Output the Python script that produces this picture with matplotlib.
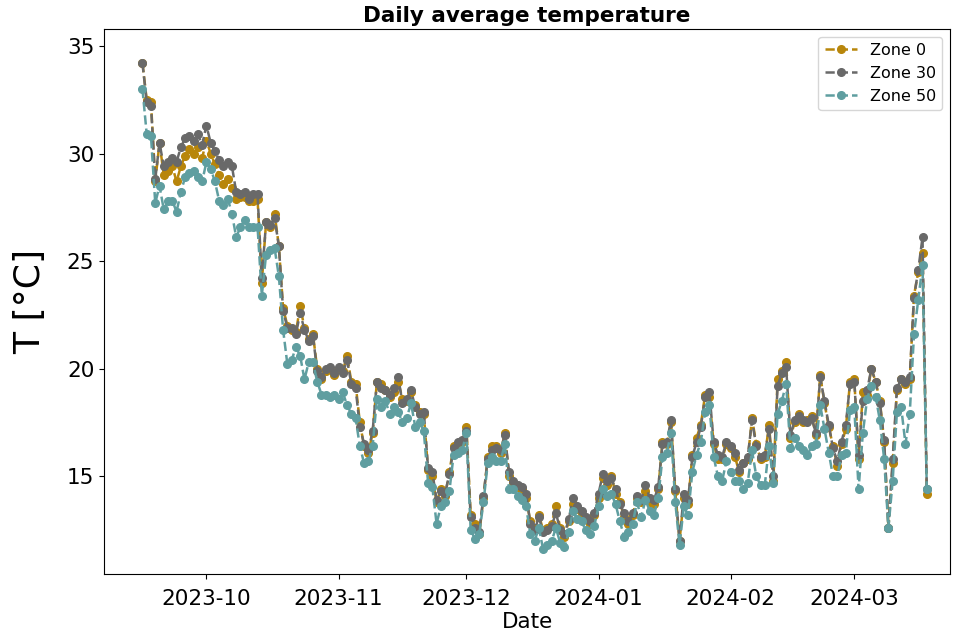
import matplotlib
matplotlib.use("Agg")
import matplotlib.pyplot as plt
import matplotlib.dates as mdates
import pandas as pd

# daily means, 2023-09-16 .. 2024-03-18
dates = pd.date_range("2023-09-16", "2024-03-18", freq="D")

zone_0 = [
    34.2, 32.5, 32.4, 28.7, 30.5, 29.0, 29.2, 29.4, 28.7, 29.4, 29.9, 30.2, 30.0, 30.3, 29.8,
    30.6, 30.0, 29.5, 29.0, 28.6, 28.8, 28.4, 27.9, 28.0, 28.0, 27.8, 27.8, 27.9, 24.0, 26.8,
    26.6, 27.2, 25.7, 22.8, 22.0, 21.8, 21.7, 22.9, 21.9, 21.4, 21.6, 20.0, 19.5, 19.9, 20.0,
    19.7, 20.0, 19.9, 20.6, 19.4, 19.3, 17.5, 16.4, 16.1, 17.0, 19.4, 19.3, 19.0, 18.7, 18.9,
    19.4, 18.6, 18.5, 18.9, 18.3, 18.0, 17.9, 15.3, 15.0, 13.8, 14.4, 14.1, 15.2, 16.4, 16.5,
    16.6, 17.3, 13.2, 12.8, 12.3, 14.0, 15.9, 16.4, 16.4, 16.1, 17.0, 15.0, 14.7, 14.5, 14.4,
    14.0, 12.9, 12.6, 13.2, 12.5, 12.6, 12.8, 13.6, 12.6, 12.2, 12.9, 13.7, 13.5, 13.2, 13.0,
    12.8, 13.2, 14.0, 14.9, 14.6, 15.0, 14.2, 13.8, 13.1, 12.8, 13.2, 14.0, 13.8, 14.3, 13.8,
    13.7, 14.4, 16.6, 16.5, 17.5, 14.3, 12.0, 14.0, 13.7, 16.0, 16.8, 17.4, 18.8, 18.7, 16.5,
    15.8, 15.8, 16.5, 16.3, 15.9, 15.2, 15.6, 15.8, 17.7, 16.5, 15.8, 15.9, 17.4, 14.8, 19.5,
    19.9, 20.3, 16.8, 17.5, 17.9, 17.5, 17.6, 17.8, 16.9, 19.7, 18.4, 17.3, 16.4, 15.5, 16.5,
    17.2, 19.4, 19.5, 15.8, 18.9, 18.8, 20.0, 19.4, 18.5, 16.6, 12.6, 15.6, 19.0, 19.5, 19.3,
    19.5, 23.4, 24.5, 25.4, 14.2,
]
zone_30 = [
    34.2, 32.4, 32.2, 28.8, 30.5, 29.4, 29.6, 29.8, 29.6, 30.3, 30.7, 30.8, 30.6, 30.9, 30.4,
    31.3, 30.5, 30.1, 29.7, 29.4, 29.6, 29.4, 28.2, 28.1, 28.2, 27.9, 28.1, 28.1, 24.2, 26.8,
    26.7, 27.0, 25.7, 22.7, 21.9, 21.9, 21.6, 22.6, 21.8, 21.3, 21.5, 19.9, 19.6, 20.0, 20.1,
    19.8, 20.1, 19.8, 20.4, 19.3, 19.1, 17.3, 16.5, 16.2, 17.1, 19.4, 19.1, 19.0, 18.8, 19.1,
    19.6, 18.4, 18.6, 19.0, 18.2, 17.9, 18.0, 15.4, 15.2, 13.9, 14.3, 14.2, 15.1, 16.3, 16.6,
    16.7, 17.1, 13.1, 12.6, 12.4, 14.1, 15.8, 16.2, 16.3, 16.2, 16.9, 15.2, 14.8, 14.6, 14.5,
    14.2, 12.8, 12.5, 13.1, 12.4, 12.5, 12.7, 13.3, 12.5, 12.3, 13.0, 14.0, 13.6, 13.4, 13.1,
    12.9, 13.3, 14.2, 15.1, 14.8, 14.9, 14.4, 13.7, 13.3, 12.9, 13.3, 14.1, 13.9, 14.6, 14.0,
    13.9, 14.5, 16.5, 16.6, 17.6, 14.4, 12.0, 14.2, 13.9, 15.9, 16.6, 17.3, 18.7, 18.9, 16.6,
    16.0, 15.9, 16.6, 16.4, 16.1, 15.3, 15.6, 15.9, 17.6, 16.4, 15.9, 16.0, 17.2, 15.0, 19.2,
    19.8, 20.1, 16.9, 17.6, 17.8, 17.6, 17.5, 17.7, 17.0, 19.6, 18.5, 17.4, 16.3, 15.7, 16.6,
    17.4, 19.3, 19.4, 16.0, 18.5, 19.0, 20.0, 19.4, 18.4, 16.7, 12.6, 15.8, 19.1, 19.5, 19.4,
    19.6, 23.3, 24.6, 26.1, 14.4,
]
zone_50 = [
    33.0, 30.9, 30.8, 27.7, 28.5, 27.4, 27.8, 27.8, 27.3, 28.2, 28.9, 29.1, 29.2, 28.9, 28.7,
    29.6, 29.3, 28.7, 27.8, 27.6, 27.9, 27.2, 26.1, 26.6, 26.9, 26.6, 26.6, 26.6, 23.4, 25.3,
    25.5, 25.6, 24.3, 21.8, 20.2, 20.4, 21.0, 20.6, 19.5, 20.3, 20.3, 19.4, 18.8, 18.8, 18.7,
    18.8, 18.6, 18.9, 18.3, 17.9, 17.7, 16.4, 15.6, 15.7, 16.4, 18.6, 18.2, 18.5, 17.9, 18.2,
    18.0, 17.5, 17.7, 18.4, 17.3, 17.5, 17.1, 14.7, 14.5, 12.8, 13.6, 13.8, 14.3, 16.0, 16.1,
    16.2, 17.0, 12.5, 12.1, 12.3, 13.8, 15.6, 15.9, 15.7, 15.7, 16.5, 14.4, 14.4, 14.1, 13.9,
    13.6, 12.3, 12.0, 12.6, 11.6, 11.8, 12.0, 12.6, 11.9, 11.7, 12.4, 13.4, 13.0, 12.9, 12.5,
    12.3, 12.7, 13.6, 14.4, 14.1, 14.2, 13.7, 12.9, 12.2, 12.4, 12.8, 13.8, 13.1, 13.9, 13.4,
    13.2, 14.0, 15.9, 16.1, 17.0, 13.8, 11.8, 13.6, 13.2, 15.2, 16.0, 16.6, 18.0, 18.3, 15.9,
    15.0, 14.8, 15.7, 15.2, 14.8, 14.8, 14.4, 14.7, 16.2, 15.0, 14.6, 14.6, 16.4, 14.7, 17.9,
    18.5, 19.3, 16.3, 16.8, 16.4, 16.2, 16.0, 16.4, 16.5, 18.3, 17.2, 16.1, 15.0, 15.0, 16.0,
    16.1, 18.1, 18.2, 14.4, 17.0, 18.6, 19.2, 18.7, 17.6, 15.8, 12.6, 14.8, 18.0, 18.2, 16.5,
    17.9, 21.6, 23.2, 24.8, 14.4,
]

series = [("Zone 0", zone_0, "#b8860b"),
          ("Zone 30", zone_30, "#696969"),
          ("Zone 50", zone_50, "#5f9ea0")]

fig = plt.figure(figsize=(9.55, 6.38), dpi=100)
ax = fig.add_axes([0.109, 0.1, 0.886, 0.855])
for lab, vals, col in series:
    ax.plot(dates, vals, "--o", color=col, label=lab, markersize=5.5, linewidth=1.8)

ax.set_xlim(pd.Timestamp("2023-09-07"), pd.Timestamp("2024-03-23 12:00"))
ax.set_ylim(10.45, 35.8)
ax.xaxis.set_major_locator(mdates.MonthLocator())
ax.xaxis.set_major_formatter(mdates.DateFormatter("%Y-%m"))
ax.tick_params(labelsize=15.5)
ax.tick_params(axis="x", pad=7)
ax.set_title("Daily average temperature", fontsize=15.5, fontweight="bold", pad=5)
ax.set_xlabel("Date", fontsize=15.5, labelpad=2)
ax.set_ylabel("T [°C]", fontsize=26, labelpad=14)
ax.legend(loc="upper right", fontsize=11.5)

fig.savefig("out.png", dpi=100)
